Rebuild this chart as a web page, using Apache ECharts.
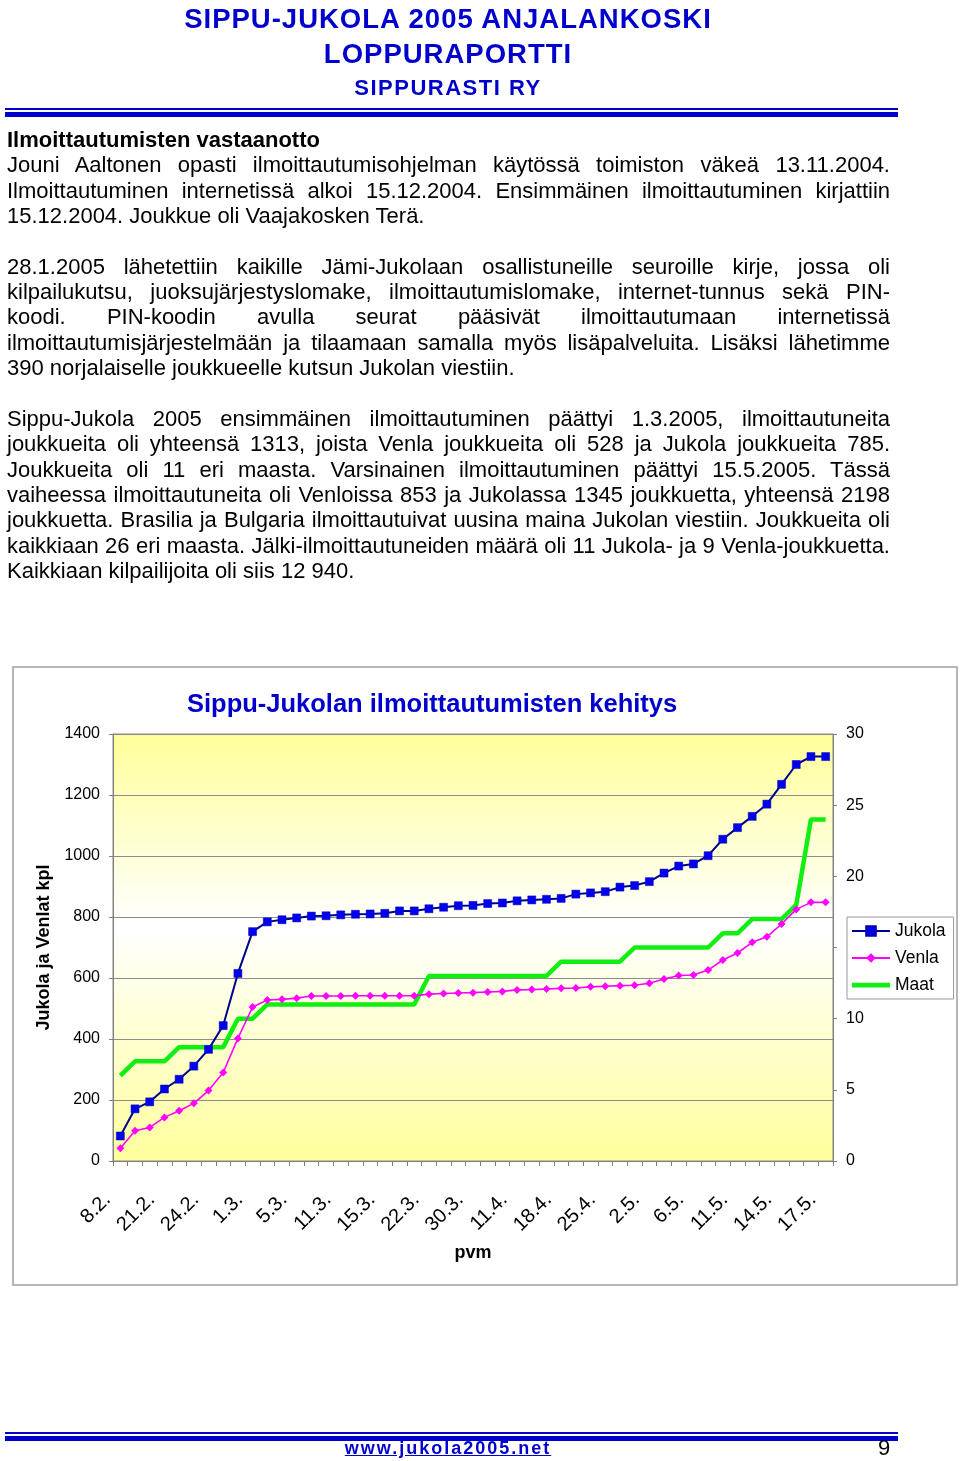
<!DOCTYPE html>
<html><head><meta charset="utf-8">
<script src="https://cdn.jsdelivr.net/npm/echarts@6/dist/echarts.min.js"></script>
<style>
html,body{margin:0;padding:0;background:#fff;}
body{width:960px;height:1461px;position:relative;overflow:hidden;font-family:"Liberation Sans",Arial,sans-serif;}
#chart{position:absolute;left:0;top:0;width:960px;height:1461px;}
.hd{position:absolute;left:0;width:896px;text-align:center;color:#0000CC;font-weight:bold;white-space:nowrap;}
.rule{position:absolute;left:5px;width:893px;background:#0000CC;}
.ln{position:absolute;left:7px;width:883px;font-size:22px;line-height:25px;height:25px;white-space:nowrap;color:#000;}
.j{text-align:justify;text-align-last:justify;white-space:normal;}
.b{font-weight:bold;}
#foot{position:absolute;left:0;width:896px;top:1438px;text-align:center;font-size:18px;font-weight:bold;letter-spacing:2px;color:#0000CC;text-decoration:underline;}
#pg{position:absolute;left:878px;top:1435px;font-size:22px;color:#000;}
</style></head>
<body>
<div id="chart"></div>
<div class="hd" style="top:3px;font-size:27.5px;letter-spacing:1px;">SIPPU-JUKOLA 2005 ANJALANKOSKI</div>
<div class="hd" style="top:38px;font-size:27.5px;letter-spacing:1px;">LOPPURAPORTTI</div>
<div class="hd" style="top:75px;font-size:22px;letter-spacing:1.5px;">SIPPURASTI RY</div>
<div class="rule" style="top:108px;height:2px;"></div>
<div class="rule" style="top:112px;height:5px;"></div>
<div id="text"></div>
<div class="rule" style="top:1432px;height:2px;"></div>
<div class="rule" style="top:1436px;height:5px;"></div>
<div id="foot">www.jukola2005.net</div>
<div id="pg">9</div>
<script>
// ---- data ----
const dateLabels = ['8.2.','21.2.','24.2.','1.3.','5.3.','11.3.','15.3.','22.3.','30.3.','11.4.','18.4.','25.4.','2.5.','6.5.','11.5.','14.5.','17.5.'];
const jukola = [82,171,194,236,268,311,366,444,615,752,
  784,791,797,803,804,807,809,810,812,820,
  820,827,832,837,838,844,846,853,856,858,
  861,875,879,883,898,903,916,944,967,974,
  1001,1055,1093,1130,1170,1235,1300,1326,1326];
const venla = [42,99,110,143,165,189,231,290,402,505,
  528,530,534,541,541,541,542,542,542,542,
  542,547,549,551,552,554,556,561,562,564,
  566,567,571,573,575,576,583,597,608,610,
  626,659,682,717,735,777,825,848,848];
const maat = [6,7,7,7,8,8,8,8,10,10,
  11,11,11,11,11,11,11,11,11,11,
  11,13,13,13,13,13,13,13,13,13,
  14,14,14,14,14,15,15,15,15,15,
  15,16,16,17,17,17,18,24,24];
const leftTicks = {min:0,max:1400,interval:200};
const rightTicks = {min:0,max:30,interval:5};
const seriesNames = ['Jukola','Venla','Maat'];
const titleText = 'Sippu-Jukolan ilmoittautumisten kehitys';
const yName = 'Jukola ja Venlat kpl';
const xName = 'pvm';

const textLines = [
 ['b','Ilmoittautumisten vastaanotto'],
 ['j','Jouni Aaltonen opasti ilmoittautumisohjelman käytössä toimiston väkeä 13.11.2004.'],
 ['j','Ilmoittautuminen internetissä alkoi 15.12.2004. Ensimmäinen ilmoittautuminen kirjattiin'],
 ['','15.12.2004. Joukkue oli Vaajakosken Terä.'],
 ['',''],
 ['j','28.1.2005 lähetettiin kaikille Jämi-Jukolaan osallistuneille seuroille kirje, jossa oli'],
 ['j','kilpailukutsu, juoksujärjestyslomake, ilmoittautumislomake, internet-tunnus sekä PIN-'],
 ['j','koodi. PIN-koodin avulla seurat pääsivät ilmoittautumaan internetissä'],
 ['j','ilmoittautumisjärjestelmään ja tilaamaan samalla myös lisäpalveluita. Lisäksi lähetimme'],
 ['','390 norjalaiselle joukkueelle kutsun Jukolan viestiin.'],
 ['',''],
 ['j','Sippu-Jukola 2005 ensimmäinen ilmoittautuminen päättyi 1.3.2005, ilmoittautuneita'],
 ['j','joukkueita oli yhteensä 1313, joista Venla joukkueita oli 528 ja Jukola joukkueita 785.'],
 ['j','Joukkueita oli 11 eri maasta. Varsinainen ilmoittautuminen päättyi 15.5.2005. Tässä'],
 ['j','vaiheessa ilmoittautuneita oli Venloissa 853 ja Jukolassa 1345 joukkuetta, yhteensä 2198'],
 ['j','joukkuetta. Brasilia ja Bulgaria ilmoittautuivat uusina maina Jukolan viestiin. Joukkueita oli'],
 ['j','kaikkiaan 26 eri maasta. Jälki-ilmoittautuneiden määrä oli 11 Jukola- ja 9 Venla-joukkuetta.'],
 ['','Kaikkiaan kilpailijoita oli siis 12 940.']
];
const tc = document.getElementById('text');
textLines.forEach((l,k)=>{
  const d = document.createElement('div');
  d.className = 'ln' + (l[0] ? ' ' + l[0] : '');
  d.style.top = (140 + 25.35*k - 13) + 'px';
  d.textContent = l[1];
  tc.appendChild(d);
});

// categories: labelled every third point
const categories = [];
for (let i = 0; i < jukola.length; i++) {
  const k = Math.floor(i/3);
  categories.push(i % 3 === 0 ? dateLabels[k] : dateLabels[k] + '#' + (i%3));
}

const FONT = '"Liberation Sans", Arial, sans-serif';
const chart = echarts.init(document.getElementById('chart'), null, {renderer:'canvas'});
chart.setOption({
  animation:false,
  textStyle:{fontFamily:FONT},
  title:{text:titleText,left:187,top:692,padding:0,
    textStyle:{fontFamily:FONT,fontSize:25.5,fontWeight:'bold',color:'#0000CC'}},
  graphic:[{type:'rect',shape:{x:13,y:667,width:944,height:618},
    style:{fill:'none',stroke:'#A0A0A0',lineWidth:1.5},z:-1}],
  legend:{data:[{name:seriesNames[0]},{name:seriesNames[1]},
      {name:seriesNames[2],icon:'path://M0,0h40v5h-40z'}],
    orient:'vertical',left:847,top:917,
    backgroundColor:'#fff',borderColor:'#999',borderWidth:1,padding:[4,8,4,4],
    itemWidth:38,itemHeight:12,itemGap:7,
    textStyle:{fontFamily:FONT,fontSize:17.5,color:'#000',lineHeight:20}},
  grid:{left:113,right:127,top:734,bottom:300,show:true,
    borderColor:'#888',borderWidth:1,
    backgroundColor:{type:'linear',x:0,y:0,x2:0,y2:1,colorStops:[
      {offset:0,color:'#FFFF99'},{offset:0.45,color:'#FFFFFF'},{offset:1,color:'#FFFF9C'}]}},
  xAxis:{type:'category',data:categories,boundaryGap:true,
    name:xName,nameLocation:'middle',nameGap:83,
    nameTextStyle:{fontFamily:FONT,fontSize:18,fontWeight:'bold',color:'#000'},
    axisLine:{lineStyle:{color:'#808080',width:1}},
    axisTick:{show:true,interval:0,length:5,lineStyle:{color:'#808080'}},
    axisLabel:{interval:2,rotate:45,fontSize:20,color:'#000',margin:23,padding:[0,18,0,0]},
    splitLine:{show:false}},
  yAxis:[{type:'value',position:'left',min:leftTicks.min,max:leftTicks.max,interval:leftTicks.interval,
    name:yName,nameLocation:'middle',nameGap:60,
    nameTextStyle:{fontFamily:FONT,fontSize:18,fontWeight:'bold',color:'#000'},
    axisLine:{show:true,lineStyle:{color:'#808080'}},
    axisTick:{show:true,length:4,lineStyle:{color:'#808080'}},
    axisLabel:{fontSize:16,color:'#000',margin:13,formatter:v=>String(v)},
    splitLine:{show:true,lineStyle:{color:'#8C8C8C',width:1}}},
   {type:'value',position:'right',min:rightTicks.min,max:rightTicks.max,interval:rightTicks.interval,
    axisLine:{show:true,lineStyle:{color:'#808080'}},
    axisTick:{show:true,length:4,lineStyle:{color:'#808080'}},
    axisLabel:{fontSize:16,color:'#000',margin:13,formatter:v=>String(v)},
    splitLine:{show:false}}],
  series:[
    {name:'Jukola',type:'line',data:jukola,yAxisIndex:0,z:4,
     symbol:'rect',symbolSize:8,
     itemStyle:{color:'#0000EE',borderColor:'#0000B0',borderWidth:0.5},
     lineStyle:{color:'#000090',width:2}},
    {name:'Venla',type:'line',data:venla,yAxisIndex:0,z:3,
     symbol:'diamond',symbolSize:8,
     itemStyle:{color:'#FF00FF'},
     lineStyle:{color:'#FF00FF',width:1.6}},
    {name:'Maat',type:'line',data:maat,yAxisIndex:1,z:2,
     symbol:'none',
     itemStyle:{color:'#11EE11'},
     lineStyle:{color:'#11EE11',width:4.5}}
  ]
});
</script>
</body></html>
